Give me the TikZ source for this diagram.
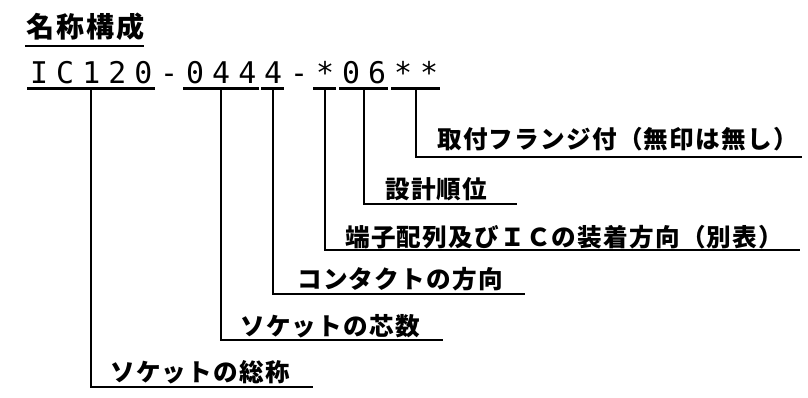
\documentclass[tikz,border=0pt]{standalone}
\usepackage{fontspec}
\usepackage{tikz}
\usetikzlibrary{positioning,calc}
\newfontfamily\jpfont[LetterSpace=5]{Noto Sans CJK JP}
\newfontfamily\codefont[LetterSpace=27]{DejaVu Sans Mono}

\begin{document}
\begin{tikzpicture}[x=0.03cm,y=-0.03cm,
          segnode/.style={inner ysep=0pt,inner xsep=3.4pt,anchor=base west,font=\codefont\fontsize{25.5pt}{25.5pt}\selectfont},
          lblnode/.style={inner sep=0pt,anchor=base west,font=\jpfont\bfseries\fontsize{21pt}{21pt}\selectfont},
          uline/.style={line width=2.6pt},
          conn/.style={line width=1.5pt}
          ]
          \useasboundingbox (0,0) rectangle (808,398);
          % the title
          \node[lblnode,font=\jpfont\bfseries\fontsize{24pt}{24pt}\selectfont\addfontfeature{LetterSpace=7}] (title) at (26,38) {名称構成};
          \draw[line width=1.8pt] ($(title.south west)+(-1,5)$) -- ($(title.south east)+(-1,5)$);
          % the code segments
          \foreach \nm/\k/\txt in {a/0/IC120,h1/5/-,b/6/044,c/9/4,h2/10/-,d/11/*,e/12/06,f/14/**}
            \node[segnode] (\nm) at ({26+26*\k},84) {\txt};
          \foreach \nm in {a,b,c,d,e,f}
            \draw[uline] ($(\nm.south west)+(1,4)$) -- ($(\nm.south east)+(-2,4)$);
          % the labels
          \node[lblnode] (fl) at (437,149) {取付フランジ付（無印は無し）};
          \node[lblnode] (el) at (385,199) {設計順位};
          \node[lblnode] (dl) at (345,246) {端子配列及びＩＣの装着方向（別表）};
          \node[lblnode] (cl) at (297,288) {コンタクトの方向};
          \node[lblnode] (bl) at (240,335) {ソケットの芯数};
          \node[lblnode] (al) at (110,381) {ソケットの総称};
          % the line ends
          \coordinate (fend) at (802,157);
          \coordinate (eend) at (517,204);
          \coordinate (dend) at (800,250);
          \coordinate (cend) at (525,294);
          \coordinate (bend) at (443,340);
          \coordinate (aend) at (313,387);
          % the connectors
          \foreach \nm in {a,b,c,d,e,f}
            \draw[conn] ($(\nm.south)+(0,4)$) |- (\nm end);
\end{tikzpicture}
\end{document}
